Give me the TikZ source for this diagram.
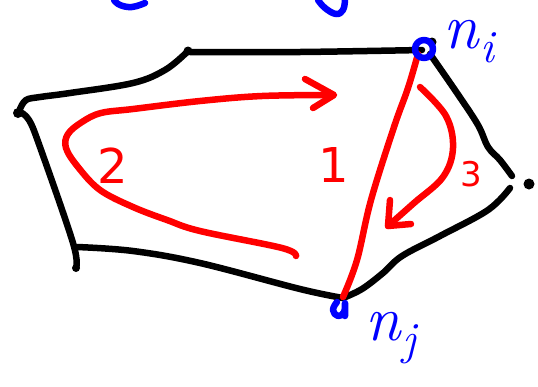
\documentclass[tikz,border=0pt]{standalone}
\usepackage{fontspec}
\setsansfont{DejaVu Sans}
\newcommand{\sublbl}[2]{\textit{#1}\raisebox{-0.22em}{\fontsize{46}{46}\selectfont\textit{#2}}}
\begin{document}
\begin{tikzpicture}[x=1pt,y=-1pt,
  ink/.style={line width=6.5pt,line cap=round,line join=round},
  blk/.style={ink,black},
  rd/.style={ink,red},
  bl/.style={ink,blue},
  dotb/.style={circle,fill=black,inner sep=0pt,minimum size=10pt},
  num/.style={text=red,font=\sffamily\fontsize{48}{48}\selectfont,inner sep=0pt},
  lbl/.style={text=blue,font=\fontsize{64}{64}\selectfont,inner sep=0pt}]
\useasboundingbox (0,0) rectangle (538,386);
% vertices
\coordinate (A) at (18,113);
\coordinate (B) at (188,51);
\coordinate (C) at (424,49);
\coordinate (D) at (529,184);
\coordinate (E) at (343,300);
\coordinate (F) at (76,268);
\node[dotb] (dA) at (A) {};
\node[dotb,minimum size=9pt] (dB) at (B) {};
\node[dotb,minimum size=11pt] (dD) at (D) {};
\node[dotb,minimum size=8pt] (dF) at (F) {};
\node[dotb,minimum size=9pt] (dC) at (432,42) {};
% black outline
\draw[blk] plot[smooth,tension=0.6] coordinates {(20,109) (26,100) (40,97) (70,93) (133,83) (165,70) (186,53)};
\draw[blk] plot[smooth,tension=0.5] coordinates {(190,52) (300,52) (422,50)};
\draw[blk] plot[smooth,tension=0.6] coordinates {(430,54) (457,93) (478,125) (488,147) (500,160) (512,176)};
\draw[blk] plot[smooth,tension=0.6] coordinates {(510,188) (488,210) (440,236) (402,256) (383,273) (362,289) (343,298)};
\draw[blk] plot[smooth,tension=0.6] coordinates {(343,298) (300,289) (200,263) (133,251) (77,247)};
\draw[blk] plot[smooth,tension=0.6] coordinates {(20,112) (29,120) (40,147) (73,243) (76,268)};
% red stroke 1
\draw[rd] plot[smooth,tension=0.6] coordinates {(418,54) (408,88) (394,127) (371,200) (357,260) (343,297)};
% red arrow 3
\draw[rd] plot[smooth,tension=0.6] coordinates {(420,87) (446,116) (453,148) (443,177) (414,203) (388,226)};
\draw[rd] (390,200) -- (388,226) -- (411,224);
% red arrow 2
\draw[rd] plot[smooth,tension=0.6] coordinates {(296,256) (282,248) (200,231) (167,220) (133,207) (100,190) (78,167) (66,148) (68,134) (82,122) (101,113) (133,109) (200,101) (262,96) (333,95)};
\draw[rd] (305,79) -- (334,95) -- (313,108);
% numbers
\node[num] (n1) at (334,165) {1};
\node[num] (n2) at (113,166) {2};
\node[num,font=\sffamily\fontsize{34}{34}\selectfont] (n3) at (471,174) {3};
% blue circles at the two ends
\draw[bl] (C) circle[radius=9];
\draw[bl] plot[smooth,tension=0.8] coordinates {(337,302) (333,310) (338,316) (344,312) (345,303) (345,316)};
% blue labels
\node[lbl] (ni) at (470,42) {\sublbl{n}{i}};
\node[lbl] (nj) at (392,338) {\sublbl{n}{j}};
% partial strokes at the top edge
\draw[bl] plot[smooth,tension=0.7] coordinates {(114,0) (120,5) (132,7) (145,3)};
\draw[bl] plot[smooth,tension=0.7] coordinates {(318,0) (325,8) (336,14) (343,10) (345,0)};
\end{tikzpicture}
\end{document}
